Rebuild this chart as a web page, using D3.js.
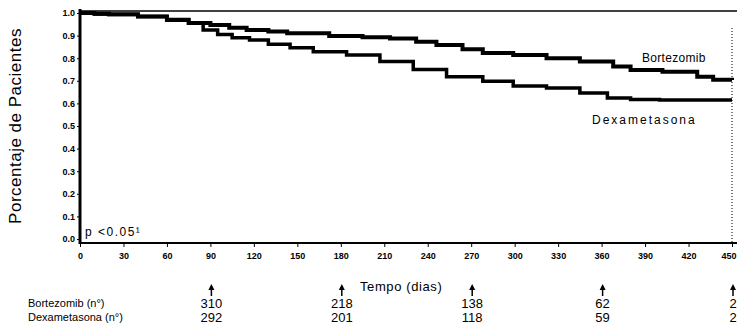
<!DOCTYPE html>
<html>
<head>
<meta charset="utf-8">
<script src="https://cdn.jsdelivr.net/npm/d3@7"></script>
<style>
  body { margin: 0; background: #fff; }
  svg { display: block; font-family: "Liberation Sans", Arial, sans-serif; }
</style>
</head>
<body>
<svg id="chart" width="737" height="332"></svg>
<script>
// Kaplan-Meier curves (day, proportion)
const bortezomibDays = [0, 10, 20, 40, 60, 75, 90, 103, 115, 130, 143, 172, 195, 214, 232, 246, 264, 278, 299, 322, 345, 368, 380, 402, 426, 437, 450];
const bortezomibSurv = [1.0, 0.997, 0.994, 0.984, 0.969, 0.956, 0.947, 0.935, 0.925, 0.918, 0.91, 0.898, 0.893, 0.887, 0.873, 0.858, 0.84, 0.823, 0.814, 0.80, 0.785, 0.763, 0.748, 0.74, 0.718, 0.705, 0.703];
const dexDays = [0, 10, 20, 40, 60, 75, 85, 95, 105, 117, 130, 145, 161, 184, 207, 230, 253, 278, 299, 322, 345, 364, 380, 400, 450];
const dexSurv = [1.0, 0.996, 0.993, 0.984, 0.971, 0.955, 0.925, 0.905, 0.89, 0.88, 0.862, 0.846, 0.829, 0.814, 0.785, 0.75, 0.718, 0.698, 0.677, 0.668, 0.646, 0.624, 0.617, 0.615, 0.615];

const xTicks = [0, 30, 60, 90, 120, 150, 180, 210, 240, 270, 300, 330, 360, 390, 420, 450];
const yTicks = [0, 0.1, 0.2, 0.3, 0.4, 0.5, 0.6, 0.7, 0.8, 0.9, 1.0];

// patients at risk
const riskDays = [90, 180, 270, 360, 450];
const bortezomibRisk = [310, 218, 138, 62, 2];
const dexRisk = [292, 201, 118, 59, 2];

const svg = d3.select('#chart');

const x = d3.scaleLinear().domain([0, 450]).range([80, 732]);
const y = d3.scaleLinear().domain([0, 1]).range([239, 13]);

// frame: top line and dotted right edge
svg.append('line')
    .attr('x1', x(0)).attr('x2', 737)
    .attr('y1', y(1) - 2).attr('y2', y(1) - 2)
    .attr('stroke', '#000').attr('stroke-width', 1.6);
svg.append('line')
    .attr('x1', x(450)).attr('x2', x(450))
    .attr('y1', y(1) + 15).attr('y2', 243)
    .attr('stroke', '#000').attr('stroke-width', 1)
    .attr('stroke-dasharray', '1,2');

// Y axis
const yAxis = svg.append('g')
    .attr('transform', `translate(${x(0)},0)`)
    .call(d3.axisLeft(y).tickValues(yTicks).tickFormat(d3.format('.1f')).tickSize(3).tickPadding(2));
yAxis.select('.domain').attr('stroke-width', 3).attr('d', `M0,${y(1) - 4}V244`);
yAxis.selectAll('text')
    .style('font-size', '9px').style('font-weight', 'bold').attr('fill', '#000');

// X axis
const xAxis = svg.append('g')
    .attr('transform', 'translate(0,243)')
    .call(d3.axisBottom(x).tickValues(xTicks).tickSize(4).tickPadding(6));
xAxis.select('.domain').attr('stroke-width', 2.2).attr('d', `M${x(0)},0H737`);
xAxis.selectAll('text')
    .style('font-size', '9px').style('font-weight', 'bold').attr('fill', '#000');
// last label sits at the right edge: keep it inside the window
xAxis.selectAll('.tick').filter(d => d === 450).select('text')
    .attr('text-anchor', 'end').attr('x', 737 - x(450) - 1);

// curves
const line = d3.line()
    .x(d => x(d[0]))
    .y(d => y(d[1]))
    .curve(d3.curveStepAfter);

svg.append('path')
    .datum(d3.zip(dexDays, dexSurv))
    .attr('fill', 'none').attr('stroke', '#000').attr('stroke-width', 3.5)
    .attr('d', line);
svg.append('path')
    .datum(d3.zip(bortezomibDays, bortezomibSurv))
    .attr('fill', 'none').attr('stroke', '#000').attr('stroke-width', 4)
    .attr('d', line);

// curve labels
svg.append('text').attr('x', 642).attr('y', 62)
    .style('font-size', '12px').style('letter-spacing', '0.3px').text('Bortezomib');
svg.append('text').attr('x', 592).attr('y', 124)
    .style('font-size', '12px').style('letter-spacing', '2px').text('Dexametasona');

svg.append('text').attr('x', 85).attr('y', 236)
    .style('font-size', '12px').style('letter-spacing', '1.5px').text('p <0.05¹');

// y title
svg.append('text')
    .attr('transform', `translate(21,${(y(0) + y(1)) / 2}) rotate(-90)`)
    .attr('text-anchor', 'middle')
    .style('font-size', '17px').style('letter-spacing', '0.5px')
    .text('Porcentaje de Pacientes');

// x title
svg.append('text').attr('x', 360).attr('y', 291)
    .style('font-size', '13px').style('letter-spacing', '0.6px').text('Tempo (dias)');

// at-risk table
svg.append('text').attr('x', 28).attr('y', 307)
    .style('font-size', '11px').text('Bortezomib (n°)');
svg.append('text').attr('x', 28).attr('y', 321)
    .style('font-size', '11px').text('Dexametasona (n°)');

const risk = svg.append('g');
riskDays.forEach((d, i) => {
    const cx = x(d) + 1;
    risk.append('line')
        .attr('x1', cx).attr('x2', cx).attr('y1', 286).attr('y2', 296)
        .attr('stroke', '#000').attr('stroke-width', 1.5);
    risk.append('path')
        .attr('d', `M${cx - 3},290L${cx},284L${cx + 3},290Z`)
        .attr('fill', '#000');
    risk.append('text').attr('x', cx).attr('y', 308)
        .attr('text-anchor', 'middle').style('font-size', '13px')
        .text(bortezomibRisk[i]);
    risk.append('text').attr('x', cx).attr('y', 322)
        .attr('text-anchor', 'middle').style('font-size', '13px')
        .text(dexRisk[i]);
});
</script>
</body>
</html>
